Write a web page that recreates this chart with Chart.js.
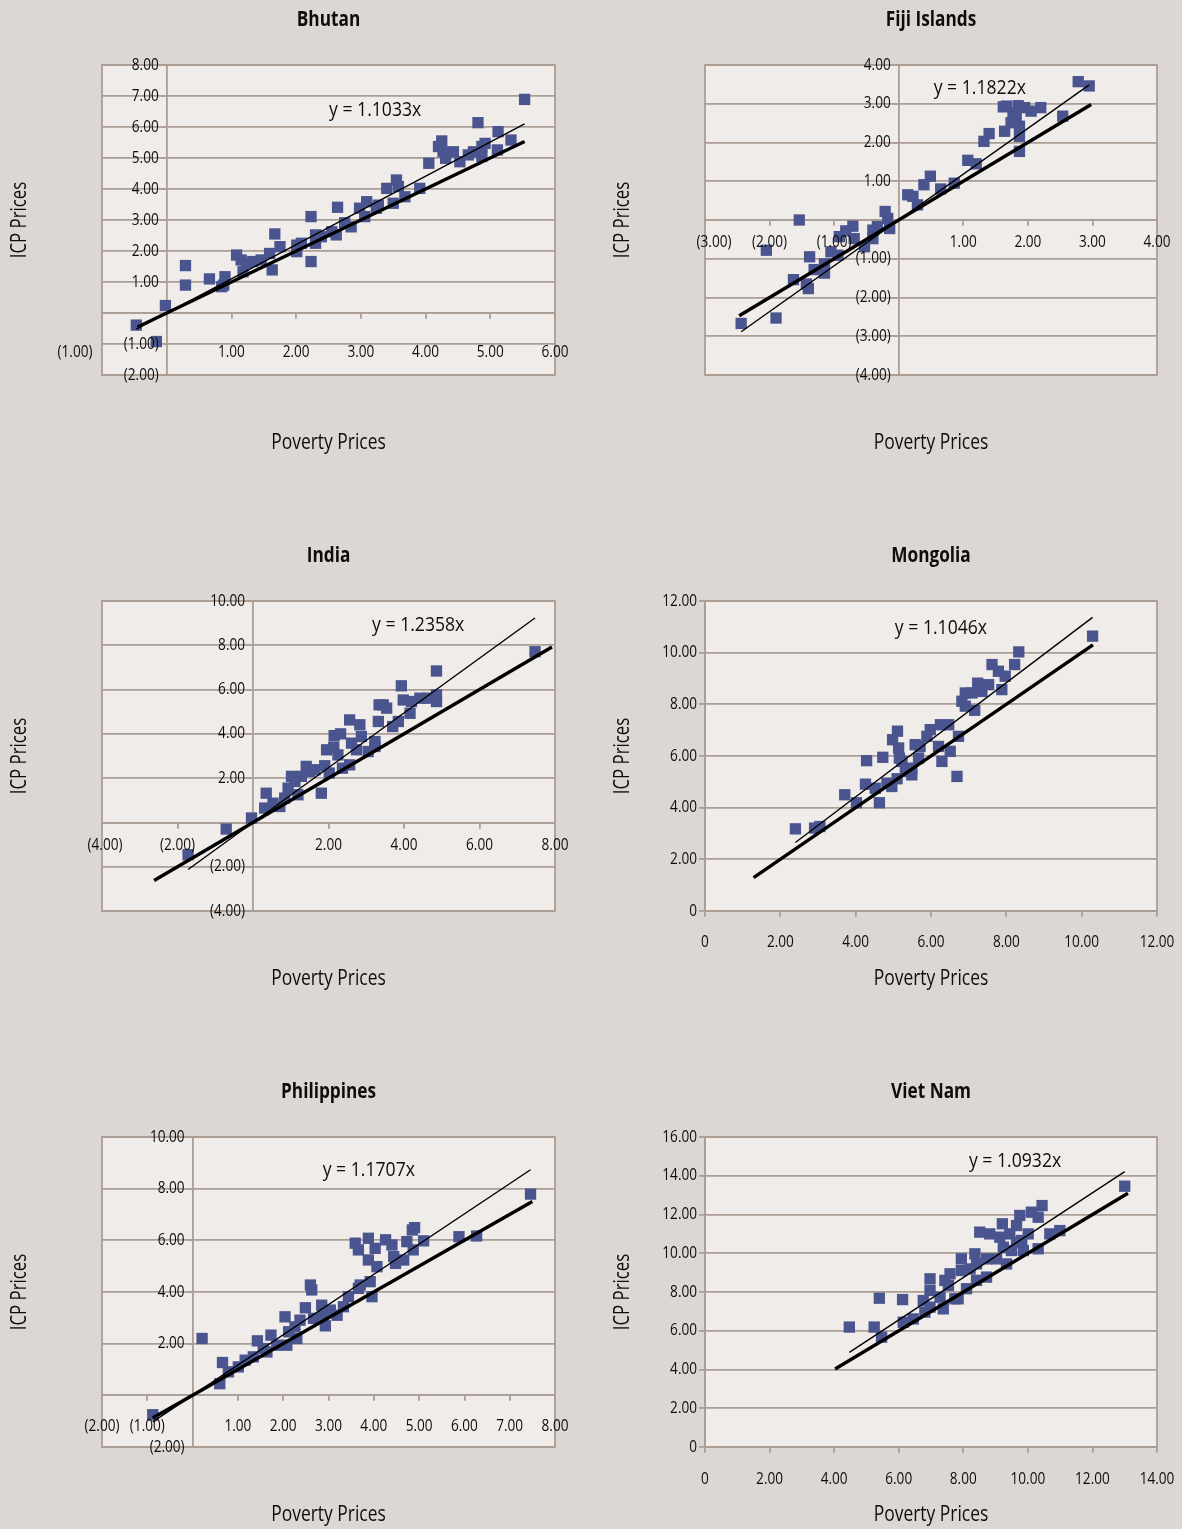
<!DOCTYPE html>
<html>
<head>
<meta charset="utf-8">
<title>ICP vs Poverty Prices</title>
<script src="https://cdn.jsdelivr.net/npm/chart.js@4.4.0/dist/chart.umd.min.js"></script>
<style>
  html, body { margin: 0; padding: 0; background: #ddd7d3; }
  #page { position: relative; width: 1182px; height: 1529px; overflow: hidden; }
  #page canvas { position: absolute; }
</style>
</head>
<body>
<div id="page"></div>
<script>
// ---- data ----
const countries = ['Bhutan', 'Fiji Islands', 'India', 'Mongolia', 'Philippines', 'Viet Nam'];
const slopes = [1.1033, 1.1822, 1.2358, 1.1046, 1.1707, 1.0932];

// axis min, max, step
const xTicks = [[-1, 6, 1], [-3, 4, 1], [-4, 8, 2], [0, 12, 2], [-2, 8, 1], [0, 14, 2]];
const yTicks = [[-2, 8, 1], [-4, 4, 1], [-4, 10, 2], [0, 12, 2], [-2, 10, 2], [0, 16, 2]];
const zeroLabels = ['', '', '', '0', '', '0'];

// ends of the y = x reference line
const diagonalEnds = [[-0.45, 5.53], [-2.47, 2.98], [-2.62, 7.92], [1.29, 10.3], [-0.88, 7.5], [4.03, 13.1]];

const bhutanX = [-0.47, -0.16, -0.02, 0.29, 0.29, 0.66, 0.85, 0.90, 0.88, 1.08, 1.15, 1.23, 1.18, 1.33, 1.46, 1.59, 1.63, 1.67, 1.75, 2.01,
  2.01, 2.08, 2.23, 2.23, 2.30, 2.30, 2.39, 2.55, 2.62, 2.64, 2.75, 2.85, 2.98, 3.06, 3.09, 3.24, 3.27, 3.40, 3.50, 3.55,
  3.58, 3.68, 3.91, 4.05, 4.25, 4.27, 4.31, 4.43, 4.53, 4.66, 4.74, 4.81, 4.87, 4.92, 5.12, 5.11, 5.32, 5.53, 4.87, 4.20];
const bhutanY = [-0.39, -0.92, 0.24, 1.53, 0.90, 1.10, 0.85, 1.17, 0.90, 1.87, 1.71, 1.62, 1.33, 1.66, 1.71, 1.92, 1.39, 2.55, 2.14, 2.19,
  1.98, 2.25, 3.11, 1.66, 2.25, 2.52, 2.46, 2.62, 2.52, 3.41, 2.91, 2.78, 3.38, 3.11, 3.59, 3.38, 3.48, 4.02, 3.54, 4.29,
  4.08, 3.75, 4.02, 4.83, 5.55, 5.20, 4.99, 5.20, 4.88, 5.10, 5.20, 6.14, 5.05, 5.47, 5.85, 5.26, 5.58, 6.89, 5.37, 5.37];

const fijiX = [-2.44, -1.90, -2.05, -1.54, -1.63, -1.43, -1.40, -1.38, -1.31, -1.15, -1.15, -1.05, -0.92, -0.82, -0.71, -0.69, -0.94, -0.53, -0.40, -0.40,
  -0.21, -0.17, -0.14, -0.33, 0.14, 0.22, 0.29, 0.39, 0.49, 0.65, 0.86, 1.07, 1.20, 1.32, 1.40, 1.64, 1.67, 1.77, 1.87, 1.87,
  1.87, 1.95, 2.05, 2.20, 2.54, 2.78, 2.95, 1.82, 1.74, 1.62, 1.85];
const fijiY = [-2.67, -2.53, -0.78, 0.00, -1.54, -1.65, -1.77, -0.95, -1.28, -1.37, -1.13, -0.82, -0.43, -0.28, -0.16, -0.48, -0.91, -0.69, -0.26, -0.48,
  0.22, 0.04, -0.22, -0.17, 0.65, 0.61, 0.39, 0.91, 1.13, 0.80, 0.95, 1.54, 1.45, 2.03, 2.23, 2.29, 2.94, 2.77, 2.42, 2.16,
  1.77, 2.90, 2.81, 2.90, 2.68, 3.57, 3.46, 2.68, 2.51, 2.92, 2.95];

const indiaX = [-1.72, -0.71, -0.04, 0.35, 0.31, 0.53, 0.71, 0.84, 0.93, 1.02, 1.19, 1.28, 1.41, 1.50, 1.11, 1.81, 1.90, 1.95, 2.02, 2.15,
  2.14, 2.32, 2.25, 2.37, 2.56, 2.56, 2.61, 2.83, 2.87, 3.05, 3.23, 3.32, 3.34, 3.54, 3.70, 3.85, 3.93, 3.98, 4.16, 4.20,
  4.42, 4.64, 4.86, 4.86, 4.86, 7.47, 3.45, 1.64, 2.74, 3.23];
const indiaY = [-1.46, -0.30, 0.20, 1.32, 0.65, 0.87, 0.72, 1.10, 1.55, 2.08, 1.25, 2.08, 2.53, 2.30, 1.85, 1.32, 2.56, 3.28, 2.23, 3.92,
  3.40, 4.00, 3.05, 2.45, 4.63, 2.60, 3.58, 4.41, 3.88, 3.20, 3.65, 4.56, 5.31, 5.16, 4.33, 4.56, 6.17, 5.53, 4.93, 5.46,
  5.61, 5.61, 5.76, 5.46, 6.84, 7.71, 5.31, 2.38, 3.28, 3.43];

const mongoliaX = [2.40, 2.91, 3.05, 3.71, 4.02, 4.63, 4.26, 4.29, 4.72, 4.52, 4.83, 4.96, 5.10, 4.98, 5.11, 5.14, 5.16, 5.32, 5.49, 5.58,
  5.71, 5.89, 5.98, 6.25, 6.29, 6.47, 6.51, 6.69, 6.73, 6.91, 6.91, 7.09, 7.16, 7.24, 7.53, 7.62, 7.79, 7.88, 7.97, 8.22,
  8.33, 10.29, 6.20, 5.67, 5.23, 5.49, 7.35, 6.82];
const mongoliaY = [3.18, 3.21, 3.27, 4.50, 4.19, 4.19, 4.91, 5.82, 5.95, 4.75, 4.95, 4.82, 5.12, 6.63, 6.96, 6.31, 5.92, 5.40, 5.53, 6.44,
  6.37, 6.76, 7.02, 7.21, 5.79, 7.21, 6.18, 5.21, 6.76, 8.44, 7.93, 8.44, 7.77, 8.82, 8.76, 9.54, 9.28, 8.57, 9.09, 9.54,
  10.03, 10.64, 6.37, 5.92, 5.79, 5.27, 8.50, 8.12];

const philippinesX = [-0.88, 0.21, 0.60, 0.66, 0.79, 1.01, 1.16, 1.34, 1.43, 1.56, 1.64, 1.73, 1.86, 2.04, 2.08, 2.12, 2.26, 2.30, 2.37, 2.49,
  2.60, 2.63, 2.67, 2.85, 2.88, 2.93, 3.04, 3.19, 3.33, 3.44, 3.59, 3.66, 3.66, 3.88, 3.88, 3.92, 3.96, 4.03, 4.07, 4.26,
  4.40, 4.44, 4.48, 4.66, 4.73, 4.85, 4.90, 4.87, 5.10, 5.88, 6.27, 7.46, 3.70];
const philippinesY = [-0.75, 2.20, 0.45, 1.27, 0.91, 1.10, 1.36, 1.49, 2.11, 1.81, 1.68, 2.33, 1.94, 3.04, 1.94, 2.46, 2.65, 2.20, 2.91, 3.39,
  4.27, 4.08, 2.98, 3.49, 3.10, 2.69, 3.30, 3.10, 3.43, 3.82, 5.89, 5.63, 4.14, 6.08, 5.24, 4.40, 3.82, 5.69, 4.98, 6.02,
  5.82, 5.37, 5.11, 5.24, 5.95, 6.40, 6.49, 5.63, 5.98, 6.14, 6.17, 7.79, 4.27];

const vietNamX = [4.47, 5.24, 5.40, 5.47, 6.12, 6.14, 6.45, 6.76, 6.81, 6.97, 6.97, 6.97, 7.38, 7.43, 7.59, 7.74, 7.84, 7.94, 7.94, 8.10,
  8.36, 8.41, 8.41, 8.51, 8.72, 8.82, 9.03, 9.13, 9.21, 9.34, 9.44, 9.49, 9.65, 9.75, 9.81, 9.86, 10.01, 10.11, 10.32, 10.32,
  10.44, 10.68, 10.99, 13.00, 9.24, 8.21, 7.54, 8.72, 9.65, 7.28];
const vietNamY = [6.19, 6.19, 7.68, 5.67, 7.61, 6.44, 6.61, 7.56, 6.96, 8.68, 8.08, 7.22, 7.13, 8.60, 8.94, 7.65, 7.65, 9.71, 9.11, 8.17,
  9.97, 9.45, 8.60, 11.09, 8.77, 11.00, 9.71, 10.83, 11.52, 9.45, 11.00, 10.14, 11.43, 11.95, 10.66, 10.14, 11.00, 12.12, 11.86, 10.23,
  12.46, 11.00, 11.17, 13.46, 10.31, 9.19, 8.34, 9.71, 10.57, 7.73];

const seriesX = [bhutanX, fijiX, indiaX, mongoliaX, philippinesX, vietNamX];
const seriesY = [bhutanY, fijiY, indiaY, mongoliaY, philippinesY, vietNamY];

// ---- look ----
const FONT = '"Open Sans", "Liberation Sans", sans-serif';
const PLOT_BG = '#f0ece9';
const GRID = '#aa9e95';
const MARKER = '#4a558f';
const TEXT = '#0d0d0d';

const xLabelGap = [39, 22, 23, 31, 31, 32];
const edgeShift = [-27, 9, 3, 0, 0, 0];   // Excel nudges the leftmost x label
const equationAt = [[0.603, 0.145], [0.608, 0.074], [0.698, 0.077], [0.522, 0.087], [0.589, 0.106], [0.686, 0.077]];

function fmt(v, zero) {
  if (Math.abs(v) < 1e-9) return zero;
  const s = Math.abs(v).toFixed(2);
  return v < 0 ? '(' + s + ')' : s;
}

// the original uses a condensed face; squeeze the text horizontally
function narrowText(ctx, text, x, y, squeeze) {
  ctx.save();
  ctx.translate(x, y);
  ctx.scale(squeeze, 1);
  ctx.fillText(text, 0, 0);
  ctx.restore();
}

const noPadding = (scale) => {
  scale.paddingLeft = 0; scale.paddingRight = 0;
  scale.paddingTop = 0; scale.paddingBottom = 0;
};

const excelLook = {
  id: 'excelLook',
  beforeDraw(chart) {
    const { ctx, chartArea: a } = chart;
    ctx.save();
    ctx.fillStyle = PLOT_BG;
    ctx.fillRect(a.left, a.top, a.width, a.height);
    ctx.strokeStyle = GRID;
    ctx.lineWidth = 1.8;
    ctx.strokeRect(a.left, a.top, a.width, a.height);
    ctx.restore();
  },
  afterDraw(chart, args, opts) {
    const i = opts.index;
    const { ctx, chartArea: a } = chart;
    const xs = chart.scales.x, ys = chart.scales.y;
    const x0 = xs.getPixelForValue(0), y0 = ys.getPixelForValue(0);
    ctx.save();
    ctx.fillStyle = TEXT;

    // tick labels
    ctx.font = '16px ' + FONT;
    ctx.textAlign = 'right';
    ctx.textBaseline = 'middle';
    ys.ticks.forEach(t => narrowText(ctx, fmt(t.value, zeroLabels[i]), x0 - 8, ys.getPixelForValue(t.value), 0.85));
    ctx.textAlign = 'center';
    xs.ticks.forEach((t, k) => {
      const shift = k === 0 ? edgeShift[i] : 0;
      narrowText(ctx, fmt(t.value, zeroLabels[i]), xs.getPixelForValue(t.value) + shift, y0 + xLabelGap[i], 0.85);
    });

    // equation of the fitted line
    ctx.font = '20px ' + FONT;
    narrowText(ctx, 'y = ' + slopes[i].toFixed(4) + 'x',
      a.left + equationAt[i][0] * a.width, a.top + equationAt[i][1] * a.height, 0.88);

    // titles
    const cx = (a.left + a.right) / 2;
    ctx.font = 'bold 21px ' + FONT;
    narrowText(ctx, countries[i], cx, 20, 0.82);
    ctx.font = '21px ' + FONT;
    narrowText(ctx, 'Poverty Prices', cx, 443, 0.83);
    ctx.translate(opts.yTitleX, (a.top + a.bottom) / 2);
    ctx.rotate(-Math.PI / 2);
    narrowText(ctx, 'ICP Prices', 0, 0, 0.8);
    ctx.restore();
  }
};

const page = document.getElementById('page');

countries.forEach((name, i) => {
  const col = i % 2, row = Math.floor(i / 2);
  const w = 591, h = row < 2 ? 536 : 457;
  const canvas = document.createElement('canvas');
  canvas.width = w; canvas.height = h;
  canvas.style.left = (col * 591) + 'px';
  canvas.style.top = (row * 536) + 'px';
  page.appendChild(canvas);

  const xv = seriesX[i], yv = seriesY[i];
  const pts = xv.map((x, k) => ({ x: x, y: yv[k] }));
  const lo = Math.min(...xv), hi = Math.max(...xv);
  const fit = [{ x: lo, y: slopes[i] * lo }, { x: hi, y: slopes[i] * hi }];
  const d = diagonalEnds[i];
  const diag = [{ x: d[0], y: d[0] }, { x: d[1], y: d[1] }];

  new Chart(canvas.getContext('2d'), {
    type: 'scatter',
    data: {
      datasets: [
        { type: 'line', data: fit, borderColor: '#000', borderWidth: 1.4, pointRadius: 0, fill: false },
        { type: 'line', data: diag, borderColor: '#000', borderWidth: 3.4, pointRadius: 0, fill: false },
        { data: pts, pointStyle: 'rect', pointRadius: 8, backgroundColor: MARKER, borderColor: MARKER, borderWidth: 0 }
      ]
    },
    options: {
      responsive: false,
      animation: false,
      layout: {
        padding: { left: col ? 114 : 102, right: col ? 25 : 36, top: 65, bottom: h - 375 }
      },
      plugins: {
        legend: { display: false },
        tooltip: { enabled: false },
        excelLook: { index: i, yTitleX: col ? 32 : 20 }
      },
      scales: {
        x: {
          type: 'linear', min: xTicks[i][0], max: xTicks[i][1],
          position: { y: 0 },
          ticks: { display: false, stepSize: xTicks[i][2] },
          grid: { drawOnChartArea: false, drawTicks: true, tickLength: 5, color: GRID, lineWidth: 1.8 },
          border: { display: true, color: GRID, width: 1.8 },
          afterFit: noPadding
        },
        y: {
          type: 'linear', min: yTicks[i][0], max: yTicks[i][1],
          position: { x: 0 },
          ticks: { display: false, stepSize: yTicks[i][2] },
          grid: { drawTicks: true, tickLength: 5, color: GRID, lineWidth: 1.8 },
          border: { display: true, color: GRID, width: 1.8 },
          afterFit: noPadding
        }
      }
    },
    plugins: [excelLook]
  });
});
</script>
</body>
</html>
